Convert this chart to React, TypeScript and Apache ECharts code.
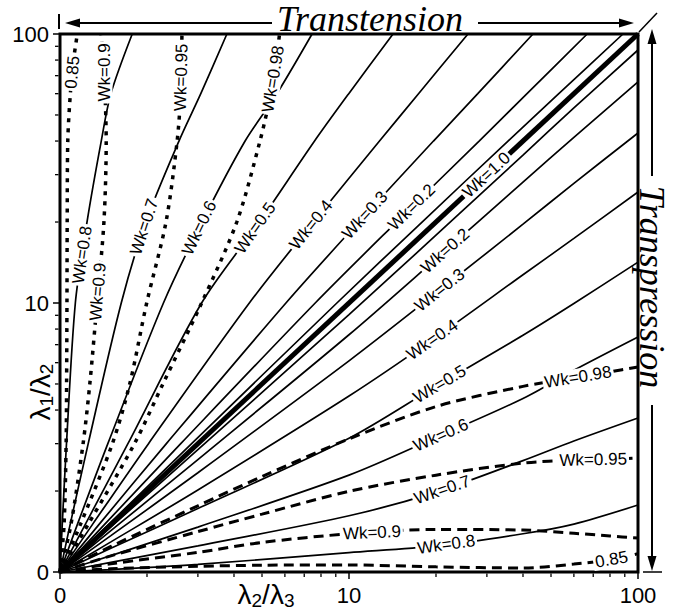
import React, { useEffect, useRef } from 'react';
import * as echarts from 'echarts';

// ---- axis ticks ----
const majorTickValues = [1, 10, 100];
const majorTickLabels = ['0', '10', '100'];
const minorTickValues = [2, 3, 4, 5, 6, 7, 8, 9, 20, 30, 40, 50, 60, 70, 80, 90];

// ---- along-axis levels at which curves were read ----
const solidLevels = [1, 1.5, 3, 10, 20, 40, 60, 100];
const dashedLevels = [1, 1.5, 3, 5, 10, 20, 40, 60, 80, 100];

// Transtension side (above diagonal): λ2/λ3 read at the λ1/λ2 levels
const transtensionWk01 = [1, 1.471, 2.854, 9.08, 17.9, 35.5, 53.2, 88.7];
const transtensionWk02 = [1, 1.424, 2.617, 7.64, 14.6, 28.2, 41.3, 66.7];
const transtensionWk03 = [1, 1.363, 2.334, 6.05, 10.8, 19.6, 27.9, 43.3];
const transtensionWk04 = [1, 1.294, 2.024, 4.52, 7.53, 12.75, 17.4, 25.8];
const transtensionWk05 = [1, 1.222, 1.718, 3.09, 4.9, 7.6, 9.98, 14.2];
const transtensionWk06 = [1, 1.148, 1.464, 2.28, 3.1, 4.37, 5.63, 7.45];
const transtensionWk07 = [1, 1.084, 1.252, 1.629, 1.98, 2.58, 3.07, 3.78];
const transtensionWk08 = [1, 1.018, 1.053, 1.13, 1.24, 1.389, 1.5, 1.778];
const transtensionWk085 = [1, 1.033, 1.05, 1.054, 1.057, 1.059, 1.064, 1.086, 1.114, 1.148];
const transtensionWk09 = [1, 1.091, 1.202, 1.268, 1.343, 1.419, 1.445, 1.432, 1.413, 1.387];
const transtensionWk095 = [1, 1.176, 1.518, 1.743, 1.995, 2.327, 2.543, 2.617, 2.634, 2.642];
const transtensionWk098 = [1, 1.25, 1.81, 2.27, 3.09, 4.09, 4.92, 5.36, 5.6, 5.75];

// Transpression side (below diagonal): λ1/λ2 read at the λ2/λ3 levels
const transpressionWk01 = [1, 1.471, 2.851, 9.057, 17.86, 35.48, 53.09, 87.2];
const transpressionWk02 = [1, 1.424, 2.618, 7.621, 14.59, 28.12, 41.3, 66.33];
const transpressionWk03 = [1, 1.365, 2.339, 6.095, 10.89, 19.63, 27.86, 42.85];
const transpressionWk04 = [1, 1.294, 2.018, 4.508, 7.464, 12.74, 17.38, 25.86];
const transpressionWk05 = [1, 1.225, 1.722, 3.141, 4.898, 7.586, 9.954, 14.19];
const transpressionWk06 = [1, 1.151, 1.469, 2.291, 3.162, 4.416, 5.623, 7.475];
const transpressionWk07 = [1, 1.086, 1.25, 1.618, 1.982, 2.594, 3.069, 3.737];
const transpressionWk08 = [1, 1.021, 1.067, 1.18, 1.25, 1.387, 1.507, 1.774];
const transpressionWk085 = [1, 1.028, 1.05, 1.06, 1.062, 1.045, 1.035, 1.07, 1.11, 1.17];
const transpressionWk09 = [1, 1.072, 1.183, 1.288, 1.387, 1.439, 1.432, 1.393, 1.361, 1.337];
const transpressionWk095 = [1, 1.148, 1.413, 1.641, 1.995, 2.291, 2.541, 2.606, 2.624, 2.655];
const transpressionWk098 = [1, 1.245, 1.762, 2.265, 3.126, 4.121, 4.898, 5.272, 5.546, 5.781];

// Wk = 1.0 (simple shear, plane strain)
const diagonalWk10 = [1, 100];

// Curve labels: [curve id, text, position along the curve (λ1/λ2 above, λ2/λ3 below)]
const curveLabels: [string, string, number][] = [
  ['up08', 'Wk=0.8', 15.1], ['up07', 'Wk=0.7', 19.2], ['up06', 'Wk=0.6', 19],
  ['up05', 'Wk=0.5', 19], ['up04', 'Wk=0.4', 19.5], ['up03', 'Wk=0.3', 21.2],
  ['up02', 'Wk=0.2', 22.7], ['diag', 'Wk=1.0', 29.9],
  ['dn02', 'Wk=0.2', 21.5], ['dn03', 'Wk=0.3', 20.6], ['dn04', 'Wk=0.4', 19.4],
  ['dn05', 'Wk=0.5', 20.6], ['dn06', 'Wk=0.6', 20.8], ['dn07', 'Wk=0.7', 21],
  ['dn08', 'Wk=0.8', 21.7],
  ['upD085', '0.85', 72], ['upD09', 'Wk=0.9', 72], ['upD09', 'Wk=0.9', 11],
  ['upD095', 'Wk=0.95', 69], ['upD098', 'Wk=0.98', 68],
  ['dnD098', 'Wk=0.98', 62], ['dnD095', 'Wk=0.95', 70], ['dnD09', 'Wk=0.9', 12],
  ['dnD085', '0.85', 81],
];

type Curve = { id: string; side: 'up' | 'dn'; kind: 'solid' | 'dashed' | 'thick'; points: number[][] };

function mk(id: string, side: 'up' | 'dn', kind: 'solid' | 'dashed' | 'thick', levels: number[], vals: number[]): Curve {
  const points = levels.map((l, i) => (side === 'up' ? [vals[i], l] : [l, vals[i]]));
  return { id, side, kind, points };
}

const curves: Curve[] = [
  mk('up01', 'up', 'solid', solidLevels, transtensionWk01),
  mk('up02', 'up', 'solid', solidLevels, transtensionWk02),
  mk('up03', 'up', 'solid', solidLevels, transtensionWk03),
  mk('up04', 'up', 'solid', solidLevels, transtensionWk04),
  mk('up05', 'up', 'solid', solidLevels, transtensionWk05),
  mk('up06', 'up', 'solid', solidLevels, transtensionWk06),
  mk('up07', 'up', 'solid', solidLevels, transtensionWk07),
  mk('up08', 'up', 'solid', solidLevels, transtensionWk08),
  mk('dn01', 'dn', 'solid', solidLevels, transpressionWk01),
  mk('dn02', 'dn', 'solid', solidLevels, transpressionWk02),
  mk('dn03', 'dn', 'solid', solidLevels, transpressionWk03),
  mk('dn04', 'dn', 'solid', solidLevels, transpressionWk04),
  mk('dn05', 'dn', 'solid', solidLevels, transpressionWk05),
  mk('dn06', 'dn', 'solid', solidLevels, transpressionWk06),
  mk('dn07', 'dn', 'solid', solidLevels, transpressionWk07),
  mk('dn08', 'dn', 'solid', solidLevels, transpressionWk08),
  mk('diag', 'up', 'thick', diagonalWk10, diagonalWk10),
  mk('upD085', 'up', 'dashed', dashedLevels, transtensionWk085),
  mk('upD09', 'up', 'dashed', dashedLevels, transtensionWk09),
  mk('upD095', 'up', 'dashed', dashedLevels, transtensionWk095),
  mk('upD098', 'up', 'dashed', dashedLevels, transtensionWk098),
  mk('dnD085', 'dn', 'dashed', dashedLevels, transpressionWk085),
  mk('dnD09', 'dn', 'dashed', dashedLevels, transpressionWk09),
  mk('dnD095', 'dn', 'dashed', dashedLevels, transpressionWk095),
  mk('dnD098', 'dn', 'dashed', dashedLevels, transpressionWk098),
];

const INK = '#000';

function pointAt(pts: number[][], a: number, val: number): number[] {
  const L = Math.log10;
  for (let i = 0; i < pts.length - 1; i++) {
    const lo = pts[i][a], hi = pts[i + 1][a];
    if ((val >= lo && val <= hi) || i === pts.length - 2) {
      let t = (L(val) - L(lo)) / (L(hi) - L(lo));
      t = Math.max(0, Math.min(1, t));
      return [
        Math.pow(10, L(pts[i][0]) + t * (L(pts[i + 1][0]) - L(pts[i][0]))),
        Math.pow(10, L(pts[i][1]) + t * (L(pts[i + 1][1]) - L(pts[i][1]))),
      ];
    }
  }
  return pts[pts.length - 1];
}

function tickLabel(v: number): string {
  const i = majorTickValues.findIndex((m) => Math.abs(m - v) < 1e-6);
  return i >= 0 ? majorTickLabels[i] : '';
}

function buildOption(labelGraphics: any[]) {
  const lineSeries = curves.map((c) => {
    let lineStyle: any;
    if (c.kind === 'solid') lineStyle = { color: INK, width: 1.7, type: 'solid' };
    else if (c.kind === 'thick') lineStyle = { color: INK, width: 5, type: 'solid' };
    else if (c.side === 'up') lineStyle = { color: INK, width: 3.5, type: [4, 6] };
    else lineStyle = { color: INK, width: 3, type: [10, 6] };
    return {
      id: c.id,
      type: 'line',
      data: c.points,
      symbol: 'none',
      smooth: 0.3,
      lineStyle,
      silent: true,
      z: 2,
    };
  });

  const minorX = {
    type: 'custom',
    id: 'minorX',
    data: minorTickValues.map((v) => [v, 1]),
    silent: true,
    z: 5,
    renderItem: (params: any, api: any) => {
      const p = api.coord([api.value(0), api.value(1)]);
      return { type: 'line', shape: { x1: p[0], y1: p[1] + 1.5, x2: p[0], y2: p[1] + 5 }, style: { stroke: INK, lineWidth: 1.3 } };
    },
  };
  const minorY = {
    type: 'custom',
    id: 'minorY',
    data: minorTickValues.map((v) => [1, v]),
    silent: true,
    z: 5,
    renderItem: (params: any, api: any) => {
      const p = api.coord([api.value(0), api.value(1)]);
      return { type: 'line', shape: { x1: p[0] - 1.5, y1: p[1], x2: p[0] - 5, y2: p[1] }, style: { stroke: INK, lineWidth: 1.3 } };
    },
  };

  const axisCommon = {
    type: 'log',
    logBase: 10,
    min: 1,
    max: 100,
    axisLine: { show: false },
    splitLine: { show: false },
    axisTick: { show: true, length: 7, lineStyle: { color: INK, width: 1.5 } },
  };

  const rich = {
    l: { fontSize: 28, fontFamily: 'Liberation Sans', fill: INK, lineHeight: 32, verticalAlign: 'middle' },
    s: { fontSize: 19, fontFamily: 'Liberation Sans', fill: INK, lineHeight: 32, verticalAlign: 'bottom' },
  };

  const graphic = [
    { type: 'text', x: 370, y: 19, style: { text: 'Transtension', fontSize: 36, fontFamily: 'Liberation Serif', fontStyle: 'italic', fill: INK, align: 'center', verticalAlign: 'middle' } },
    { type: 'line', shape: { x1: 272, y1: 23, x2: 76, y2: 23 }, style: { stroke: INK, lineWidth: 2 } },
    { type: 'polygon', shape: { points: [[65, 23], [80, 18.5], [80, 27.5]] }, style: { fill: INK } },
    { type: 'line', shape: { x1: 478, y1: 23, x2: 624, y2: 23 }, style: { stroke: INK, lineWidth: 2 } },
    { type: 'polygon', shape: { points: [[634, 23], [619, 18.5], [619, 27.5]] }, style: { fill: INK } },
    { type: 'line', shape: { x1: 59, y1: 14, x2: 59, y2: 29 }, style: { stroke: INK, lineWidth: 2 } },
    { type: 'line', shape: { x1: 639, y1: 32, x2: 657, y2: 13 }, style: { stroke: INK, lineWidth: 1.5 } },
    { type: 'text', x: 652, y: 287, rotation: -Math.PI / 2, style: { text: 'Transpression', fontSize: 36, fontFamily: 'Liberation Serif', fontStyle: 'italic', fill: INK, align: 'center', verticalAlign: 'middle' } },
    { type: 'line', shape: { x1: 652, y1: 176, x2: 652, y2: 40 }, style: { stroke: INK, lineWidth: 2 } },
    { type: 'polygon', shape: { points: [[652, 29], [647.5, 44], [656.5, 44]] }, style: { fill: INK } },
    { type: 'line', shape: { x1: 652, y1: 405, x2: 652, y2: 558 }, style: { stroke: INK, lineWidth: 2 } },
    { type: 'polygon', shape: { points: [[652, 571], [647.5, 556], [656.5, 556]] }, style: { fill: INK } },
    { type: 'line', shape: { x1: 643, y1: 572, x2: 662, y2: 572 }, style: { stroke: INK, lineWidth: 1.5 } },
    { type: 'text', x: 40, y: 392, rotation: Math.PI / 2, style: { text: '{l|λ}{s|1}{l|/λ}{s|2}', rich, fill: INK, align: 'center', verticalAlign: 'middle' } },
    { type: 'text', x: 266, y: 594, style: { text: '{l|λ}{s|2}{l|/λ}{s|3}', rich, fill: INK, align: 'center', verticalAlign: 'middle' } },
    ...labelGraphics,
  ];

  return {
    animation: false,
    backgroundColor: '#fff',
    grid: { left: 60, right: 42, top: 34, bottom: 43, show: true, borderColor: INK, borderWidth: 3, backgroundColor: 'transparent' },
    xAxis: {
      ...axisCommon,
      axisLabel: { formatter: tickLabel, fontSize: 22, fontFamily: 'Liberation Sans', color: INK, margin: 12, showMinLabel: true, showMaxLabel: true },
    },
    yAxis: {
      ...axisCommon,
      axisLabel: { formatter: tickLabel, fontSize: 22, fontFamily: 'Liberation Sans', color: INK, margin: 11, showMinLabel: true, showMaxLabel: true },
    },
    graphic,
    series: [...lineSeries, minorX, minorY],
  };
}

export default function App() {
  const ref = useRef<HTMLDivElement>(null);
  useEffect(() => {
    if (!ref.current) return;
    const chart = echarts.init(ref.current, undefined, { renderer: 'svg' });
    chart.setOption(buildOption([]));
    const labelGraphics = curveLabels.map(([id, text, along]) => {
      const c = curves.find((k) => k.id === id)!;
      const a = c.side === 'up' ? 1 : 0;
      const p = pointAt(c.points, a, along);
      const p1 = pointAt(c.points, a, along / 1.08);
      const p2 = pointAt(c.points, a, along * 1.08);
      const q = chart.convertToPixel({ gridIndex: 0 }, p) as number[];
      const q1 = chart.convertToPixel({ gridIndex: 0 }, p1) as number[];
      const q2 = chart.convertToPixel({ gridIndex: 0 }, p2) as number[];
      let ang = Math.atan2(-(q2[1] - q1[1]), q2[0] - q1[0]);
      if (ang > Math.PI / 2) ang = Math.PI / 2;
      if (ang < -Math.PI / 2) ang = -Math.PI / 2;
      return {
        type: 'text',
        x: q[0],
        y: q[1],
        rotation: ang,
        z: 100,
        silent: true,
        style: {
          text,
          fontSize: 17,
          fontFamily: 'Liberation Sans',
          fill: INK,
          align: 'center',
          verticalAlign: 'middle',
          backgroundColor: '#fff',
          padding: [0, 2],
        },
      };
    });
    chart.setOption(buildOption(labelGraphics), true);
    return () => chart.dispose();
  }, []);
  return (
    <div
      ref={ref}
      style={{ position: 'absolute', left: 0, top: 0, width: 680, height: 615, background: '#fff' }}
    />
  );
}
